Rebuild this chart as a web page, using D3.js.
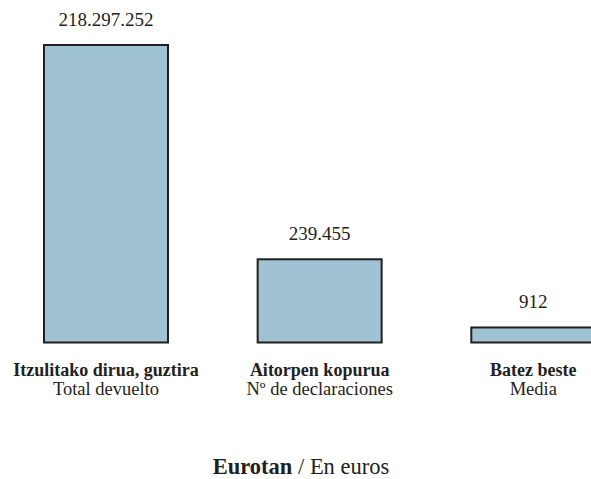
<!DOCTYPE html>
<html>
<head>
<meta charset="utf-8">
<script src="https://cdn.jsdelivr.net/npm/d3@7/dist/d3.min.js"></script>
<style>
  html, body { margin: 0; padding: 0; background: #fff; overflow: hidden; }
  svg { display: block; font-family: "Liberation Serif", "Times New Roman", serif; }
</style>
</head>
<body>
<div id="chart"></div>
<script>
// Data
const categoriesEu = ["Itzulitako dirua, guztira", "Aitorpen kopurua", "Batez beste"];
const categoriesEs = ["Total devuelto", "Nº de declaraciones", "Media"];
const values = [218297252, 239455, 912];
const valueLabels = ["218.297.252", "239.455", "912"];
const titleBold = "Eurotan";
const titleRest = " / En euros";

const W = 591, H = 479;
const baseY = 342.5, topY = 45;

const svg = d3.select("#chart").append("svg")
  .attr("width", W).attr("height", H);

const x = d3.scaleBand()
  .domain(categoriesEu)
  .range([43, 596.3])
  .paddingInner(0.4103)
  .paddingOuter(0);

// Infographic-style compressed scale (non-linear)
const y = d3.scalePow()
  .exponent(0.15)
  .domain([95, d3.max(values)])
  .range([baseY, topY]);

const ink = "#231f20";

const g = svg.append("g");

g.selectAll("rect.bar")
  .data(values)
  .join("rect")
  .attr("class", "bar")
  .attr("x", (d, i) => x(categoriesEu[i]) + 1)
  .attr("y", d => y(d))
  .attr("width", x.bandwidth() - 2)
  .attr("height", d => baseY - y(d))
  .attr("fill", "#9fc3d3")
  .attr("stroke", ink)
  .attr("stroke-width", 2);

g.selectAll("text.val")
  .data(values)
  .join("text")
  .attr("class", "val")
  .attr("x", (d, i) => x(categoriesEu[i]) + x.bandwidth() / 2)
  .attr("y", d => y(d) - 19.5)
  .attr("text-anchor", "middle")
  .attr("font-size", 19)
  .attr("fill", ink)
  .text((d, i) => valueLabels[i]);

const lab = g.selectAll("text.cat")
  .data(categoriesEu)
  .join("text")
  .attr("class", "cat")
  .attr("x", d => x(d) + x.bandwidth() / 2)
  .attr("y", 376)
  .attr("text-anchor", "middle")
  .attr("font-size", 18)
  .attr("fill", ink);

lab.append("tspan")
  .attr("font-weight", "bold")
  .text(d => d);
lab.append("tspan")
  .attr("x", d => x(d) + x.bandwidth() / 2)
  .attr("dy", 18.5)
  .attr("font-size", 18.5)
  .text((d, i) => categoriesEs[i]);

const t = svg.append("text")
  .attr("x", 301)
  .attr("y", 473.5)
  .attr("text-anchor", "middle")
  .attr("font-size", 22.5)
  .attr("fill", ink);
t.append("tspan").attr("font-weight", "bold").text(titleBold);
t.append("tspan").text(titleRest);
</script>
</body>
</html>
